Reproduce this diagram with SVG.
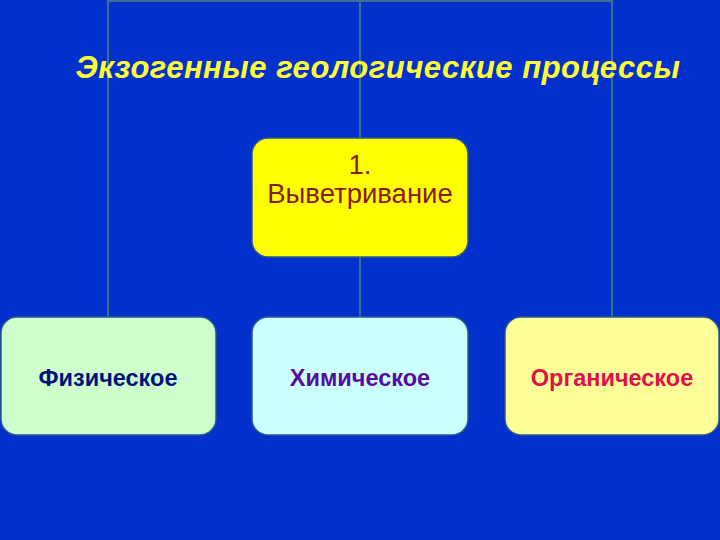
<svg xmlns="http://www.w3.org/2000/svg" width="720" height="540" viewBox="0 0 720 540">
<style>
.box{stroke:#2a5a8a;stroke-width:1.5}
.lbl{font-family:"Liberation Sans",Arial,sans-serif;font-weight:bold;font-size:23.5px;text-anchor:middle}
.conn{stroke:#3f6f8f;stroke-width:2;fill:none}
.root{font-family:"Liberation Sans",Arial,sans-serif;font-size:27.5px;fill:#8b1a1a;text-anchor:middle}
</style>
<rect x="0" y="0" width="720" height="540" fill="#0230cc"/>
<g id="connectors">
<path class="conn" d="M108,318 V1 H612 V318 M360,1 V318"/>
</g>
<text x="378" y="78" font-family="Liberation Sans,Arial,sans-serif" font-weight="bold" font-style="italic" font-size="31" letter-spacing="0.5" fill="#ffff33" text-anchor="middle">Экзогенные геологические процессы</text>
<g id="root">
<rect class="box" x="252" y="138" width="216" height="119" rx="16" fill="#ffff00"/>
<text class="root" x="360" y="174">1.</text>
<text class="root" x="360" y="203">Выветривание</text>
</g>
<g id="phys">
<rect class="box" x="1" y="317" width="215" height="118" rx="16" fill="#ccffcc"/>
<text class="lbl" x="108" y="386" fill="#00127a">Физическое</text>
</g>
<g id="chem">
<rect class="box" x="252" y="317" width="216" height="118" rx="16" fill="#ccffff"/>
<text class="lbl" x="360" y="386" fill="#5a0aa0">Химическое</text>
</g>
<g id="org">
<rect class="box" x="505" y="317" width="214" height="118" rx="16" fill="#ffff99"/>
<text class="lbl" x="612" y="386" fill="#e0104a">Органическое</text>
</g>
</svg>
